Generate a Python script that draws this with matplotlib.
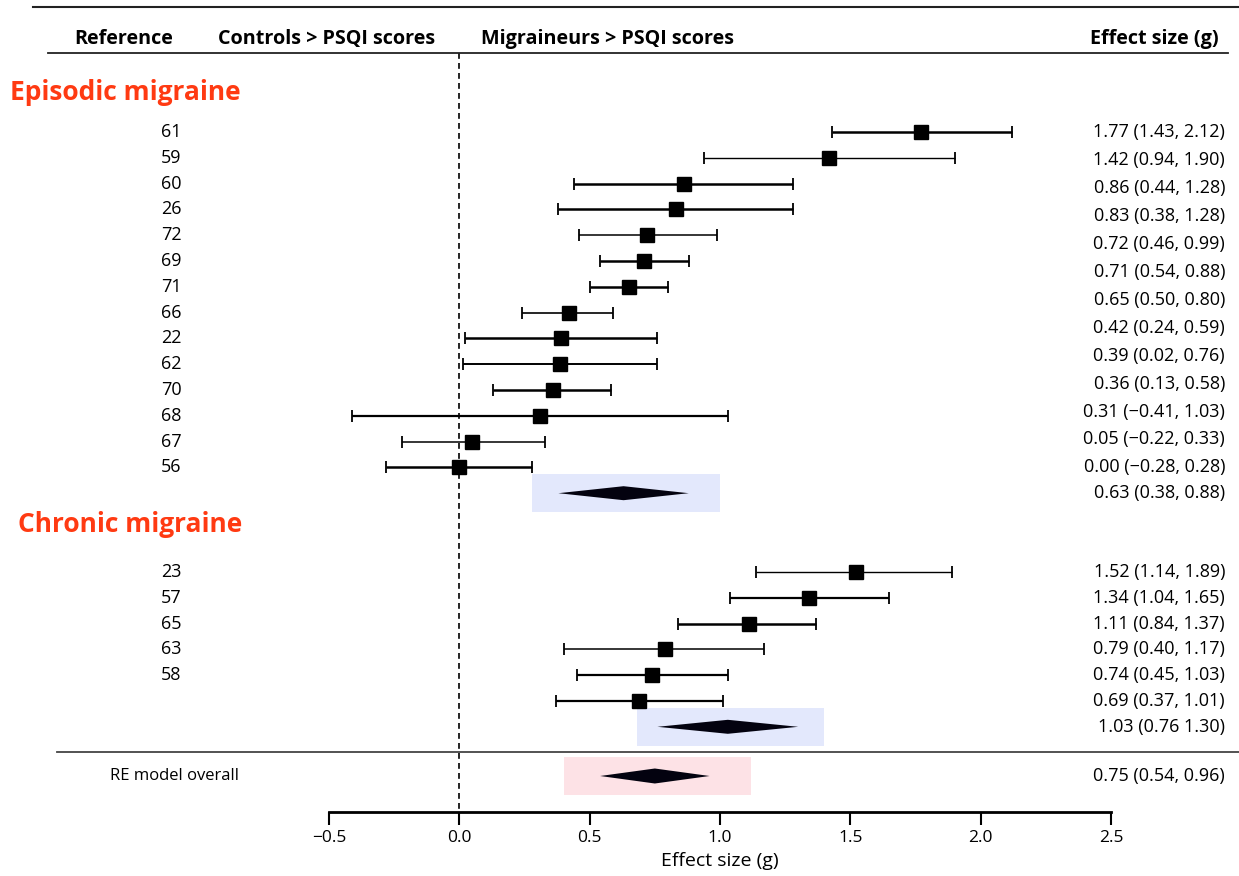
import numpy as np
import matplotlib
matplotlib.use("Agg")
import matplotlib.pyplot as plt
from matplotlib.transforms import blended_transform_factory

plt.rcParams['font.family'] = ['Open Sans', 'DejaVu Sans']

# datos - migraña episódica
epi_ref = ["61", "59", "60", "26", "72", "69", "71", "66", "22", "62", "70", "68", "67", "56"]
epi_est = [1.77, 1.42, 0.86, 0.83, 0.72, 0.71, 0.65, 0.42, 0.39, 0.385, 0.36, 0.31, 0.05, 0.00]
epi_lo = [1.43, 0.94, 0.44, 0.38, 0.46, 0.54, 0.50, 0.24, 0.02, 0.015, 0.13, -0.41, -0.22, -0.28]
epi_hi = [2.12, 1.90, 1.28, 1.28, 0.99, 0.88, 0.80, 0.59, 0.76, 0.76, 0.58, 1.03, 0.33, 0.28]
epi_txt = ["1.77 (1.43, 2.12)", "1.42 (0.94, 1.90)", "0.86 (0.44, 1.28)", "0.83 (0.38, 1.28)",
           "0.72 (0.46, 0.99)", "0.71 (0.54, 0.88)", "0.65 (0.50, 0.80)", "0.42 (0.24, 0.59)",
           "0.39 (0.02, 0.76)", "0.36 (0.13, 0.58)", "0.31 (\u22120.41, 1.03)",
           "0.05 (\u22120.22, 0.33)", "0.00 (\u22120.28, 0.28)"]
epi_pool = (0.63, 0.38, 0.88)
epi_pool_txt = "0.63 (0.38, 0.88)"

# datos - migraña crónica
cro_ref = ["23", "57", "65", "63", "58", ""]
cro_est = [1.52, 1.34, 1.11, 0.79, 0.74, 0.69]
cro_lo = [1.14, 1.04, 0.84, 0.40, 0.45, 0.37]
cro_hi = [1.89, 1.65, 1.37, 1.17, 1.03, 1.01]
cro_txt = ["1.52 (1.14, 1.89)", "1.34 (1.04, 1.65)", "1.11 (0.84, 1.37)", "0.79 (0.40, 1.17)",
           "0.74 (0.45, 1.03)", "0.69 (0.37, 1.01)"]
cro_pool = (1.03, 0.76, 1.30)
cro_pool_txt = "1.03 (0.76 1.30)"

# modelo global
all_pool = (0.75, 0.54, 0.96)
all_pool_txt = "0.75 (0.54, 0.96)"

xticks = [-0.5, 0.0, 0.5, 1.0, 1.5, 2.0, 2.5]
xticklabels = ["\u22120.5", "0.0", "0.5", "1.0", "1.5", "2.0", "2.5"]

# grosor de las lineas de cada estudio
epi_lw = [1.8, 1.0, 1.8, 1.8, 1.1, 1.8, 1.8, 1.2, 1.8, 1.4, 1.8, 1.6, 1.1, 1.8]
cro_lw = [1.0, 1.6, 1.8, 1.1, 1.6, 1.6]

W, H = 1239, 876
fig = plt.figure(figsize=(W / 100, H / 100), dpi=100)
ax = fig.add_axes([329 / W, 64 / H, 782 / W, 812 / H])
ax.set_xlim(-0.5, 2.5)
ax.set_ylim(812, 0)
trans = blended_transform_factory(fig.transFigure, ax.transData)

def fx(px):
    return px / W

# posiciones de filas
step = 25.8
y_epi = 132 + step * np.arange(len(epi_ref))
y_epi_pool = y_epi[-1] + step
y_cro = 572 + step * np.arange(len(cro_ref))
y_cro_pool = y_cro[-1] + step
y_all = 776

def forest_rows(ys, est, lo, hi, lws):
    for y, e, l, h, lw in zip(ys, est, lo, hi, lws):
        ax.errorbar(e, y, xerr=[[e - l], [h - e]], fmt="s", color="black",
                    ms=10.5, elinewidth=lw, capsize=4, capthick=1.3, zorder=3)

def diamond(y, pool, box_color, half_h=7):
    e, l, h = pool
    ax.add_patch(plt.Rectangle((e - 0.35, y - 19), 0.72, 38, color=box_color, lw=0, zorder=1))
    ax.fill([l, e, h, e], [y, y - half_h, y, y + half_h], color="#03020f", lw=0, zorder=2)

forest_rows(y_epi, epi_est, epi_lo, epi_hi, epi_lw)
forest_rows(y_cro, cro_est, cro_lo, cro_hi, cro_lw)
diamond(y_epi_pool, epi_pool, "#e3e8fc")
diamond(y_cro_pool, cro_pool, "#e3e8fc")
diamond(y_all, all_pool, "#fde2e6", half_h=7.5)

# linea de no efecto
ax.plot([0, 0], [53, 812], color="black", lw=1.2, ls=(0, (3.5, 2.5)), zorder=0, clip_on=False)

# lineas horizontales
ax.plot([fx(33), fx(1239)], [7, 7], transform=trans, color="#222222", lw=1.5, clip_on=False)
ax.plot([fx(48), fx(1228)], [53, 53], transform=trans, color="#222222", lw=1.3, clip_on=False)
ax.plot([fx(57), fx(1239)], [752, 752], transform=trans, color="#444444", lw=1.3, clip_on=False)

# encabezados
hdr = dict(transform=trans, fontsize=14.2, fontweight="bold", va="center", clip_on=False)
ax.text(fx(124), 39, "Reference", ha="center", **hdr)
ax.text(fx(218), 39, "Controls > PSQI scores", ha="left", **hdr)
ax.text(fx(481), 39, "Migraineurs > PSQI scores", ha="left", **hdr)
ax.text(fx(1219), 39, "Effect size (g)", ha="right", **hdr)

grp = dict(transform=trans, fontsize=19, fontweight="bold", color="#ff3a12", va="center", ha="left")
ax.text(fx(10), 92, "Episodic migraine", **grp)
ax.text(fx(18), 524, "Chronic migraine", **grp)

# etiquetas de referencias
lab = dict(transform=trans, fontsize=13, va="center", ha="center")
for y, r in zip(y_epi, epi_ref):
    ax.text(fx(171), y, r, **lab)
for y, r in zip(y_cro, cro_ref):
    ax.text(fx(171), y, r, **lab)
ax.text(fx(174), y_all, "RE model overall", transform=trans, fontsize=12, va="center", ha="center")

# columna de tamaños de efecto
rt = dict(transform=trans, fontsize=13, va="center", ha="right")
y_epi_txt = np.linspace(y_epi[0], y_epi[-1], len(epi_txt))
for y, t in zip(y_epi_txt, epi_txt):
    ax.text(fx(1225), y, t, **rt)
ax.text(fx(1225), y_epi_pool, epi_pool_txt, **rt)
for y, t in zip(y_cro, cro_txt):
    ax.text(fx(1225), y, t, **rt)
ax.text(fx(1225), y_cro_pool, cro_pool_txt, **rt)
ax.text(fx(1225), y_all, all_pool_txt, **rt)

# eje x
for s in ["left", "top", "right"]:
    ax.spines[s].set_visible(False)
ax.spines["bottom"].set_linewidth(2)
ax.set_yticks([])
ax.set_xticks(xticks)
ax.set_xticklabels(xticklabels)
ax.tick_params(axis="x", length=9, width=1.5, labelsize=12.5, pad=4)
ax.set_xlabel("Effect size (g)", fontsize=14, labelpad=4)

fig.savefig("out.png", dpi=100)
